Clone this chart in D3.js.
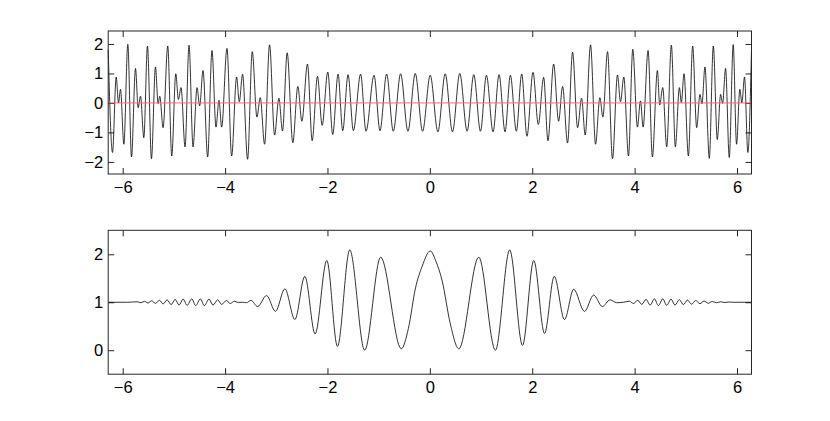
<!DOCTYPE html>
<html>
<head>
<meta charset="utf-8">
<script src="https://cdn.jsdelivr.net/npm/d3@7"></script>
<style>
  body { margin: 0; background: #fff; }
  svg text { font-family: "Liberation Sans", Arial, Helvetica, sans-serif; }
</style>
</head>
<body>
<div id="wrapper"></div>
<script>
// top panel - local peaks / troughs of the signal
const topX = [-6.283, -6.199, -6.127, -6.082, -6.043, -5.977, -5.9, -5.828, -5.75, -5.698,
  -5.652, -5.587, -5.516, -5.438, -5.36, -5.308, -5.276, -5.211, -5.12, -5.042,
  -4.963, -4.912, -4.86, -4.782, -4.704, -4.626, -4.548, -4.496, -4.431, -4.34,
  -4.256, -4.178, -4.119, -4.067, -3.963, -3.872, -3.775, -3.723, -3.658, -3.56,
  -3.469, -3.378, -3.313, -3.228, -3.131, -3.033, -2.949, -2.878, -2.787, -2.677,
  -2.579, -2.5, -2.39, -2.299, -2.195, -2.104, -1.994, -1.897, -1.793, -1.702,
  -1.598, -1.494, -1.352, -1.247, -1.09, -0.974, -0.844, -0.714, -0.571, -0.428,
  -0.285, -0.142, 0.007, 0.157, 0.3, 0.442, 0.585, 0.728, 0.858, 0.989,
  1.105, 1.235, 1.352, 1.469, 1.573, 1.69, 1.794, 1.897, 2.015, 2.119,
  2.223, 2.307, 2.418, 2.515, 2.593, 2.69, 2.788, 2.886, 2.964, 3.035,
  3.139, 3.237, 3.321, 3.38, 3.471, 3.568, 3.665, 3.724, 3.789, 3.88,
  3.964, 4.055, 4.114, 4.166, 4.263, 4.347, 4.445, 4.49, 4.549, 4.627,
  4.718, 4.796, 4.874, 4.913, 4.965, 5.05, 5.134, 5.212, 5.277, 5.316,
  5.374, 5.459, 5.537, 5.615, 5.68, 5.719, 5.777, 5.849, 5.926, 5.991,
  6.056, 6.095, 6.147, 6.212, 6.283]
const topY = [1.8, -1.68, 0.88, 0.0, 0.46, -1.4, 1.99, -1.83, 1.17, -0.16,
  0.23, -1.18, 1.93, -1.89, 1.22, -0.02, 0.23, -0.84, 1.93, -1.8,
  0.99, 0.12, 0.52, -1.49, 1.96, -1.49, 0.52, -0.1, 1.1, -1.83,
  1.78, -0.82, 0.09, -0.82, 1.85, -1.8, 0.88, 0.04, 0.97, -1.91,
  1.74, -0.48, 0.18, -1.4, 1.97, -1.09, 0.16, -0.95, 1.7, -1.35,
  0.56, -0.62, 1.32, -1.28, 0.9, -0.76, 1.05, -1.07, 0.98, -0.94,
  0.96, -0.94, 0.98, -0.96, 0.94, -0.94, 0.98, -0.96, 0.99, -0.96,
  1.0, -0.96, 0.94, -0.98, 0.99, -0.98, 1.0, -0.96, 0.96, -0.96,
  0.94, -0.98, 0.96, -0.98, 0.94, -0.96, 0.98, -1.13, 1.04, -0.73,
  0.87, -1.28, 1.32, -0.62, 0.56, -1.36, 1.72, -0.84, 0.16, -1.09,
  1.97, -1.4, 0.18, -0.48, 1.74, -1.89, 0.95, 0.04, 0.88, -1.8,
  1.82, -0.82, 0.07, -0.82, 1.78, -1.83, 1.1, -0.07, 0.52, -1.49,
  1.96, -1.49, 0.52, 0.01, 0.99, -1.8, 1.93, -0.84, 0.29, -0.03,
  1.22, -1.88, 1.93, -1.24, 0.29, -0.02, 1.17, -1.85, 1.98, -1.4,
  0.46, 0.0, 0.88, -1.68, 1.8]
const zeroLevel = 0

// bottom panel
const bottomX = [-6.283, -5.9, -5.718, -5.646, -5.574, -5.509, -5.431, -5.36, -5.282, -5.21,
  -5.132, -5.054, -4.976, -4.898, -4.82, -4.742, -4.651, -4.574, -4.483, -4.405,
  -4.314, -4.236, -4.145, -4.067, -3.976, -3.898, -3.82, -3.743, -3.66, -3.58,
  -3.495, -3.365, -3.19, -3.016, -2.832, -2.637, -2.442, -2.241, -2.013, -1.805,
  -1.565, -1.273, -0.961, -0.558, -0.42, -0.28, -0.15, 0.007, 0.12, 0.24,
  0.4, 0.566, 0.956, 1.28, 1.56, 1.81, 2.03, 2.24, 2.43, 2.63,
  2.81, 3.02, 3.2, 3.37, 3.52, 3.65, 3.78, 3.899, 3.977, 4.062,
  4.14, 4.224, 4.302, 4.387, 4.465, 4.549, 4.627, 4.711, 4.789, 4.874,
  4.952, 5.03, 5.114, 5.192, 5.277, 5.355, 5.439, 5.517, 5.602, 5.68,
  5.764, 5.842, 5.927, 6.283]
const bottomY = [1.0, 1.0, 1.01, 0.99, 1.02, 0.985, 1.03, 0.975, 1.04, 0.965,
  1.05, 0.95, 1.06, 0.94, 1.065, 0.935, 1.07, 0.93, 1.07, 0.93,
  1.065, 0.94, 1.05, 0.955, 1.035, 0.975, 1.02, 0.995, 1.0, 0.99,
  1.04, 0.91, 1.14, 0.81, 1.28, 0.64, 1.54, 0.34, 1.87, 0.08,
  2.09, 0.0, 1.94, 0.03, 0.45, 1.3, 1.75, 2.07, 1.85, 1.45,
  0.55, 0.03, 1.94, 0.0, 2.09, 0.1, 1.87, 0.35, 1.54, 0.64,
  1.27, 0.81, 1.15, 0.91, 1.05, 0.99, 1.0, 1.02, 0.975, 1.04,
  0.955, 1.06, 0.94, 1.07, 0.93, 1.07, 0.935, 1.065, 0.94, 1.055,
  0.95, 1.045, 0.96, 1.035, 0.97, 1.025, 0.98, 1.015, 0.99, 1.01,
  0.995, 1.005, 1.0, 1.0]

const xTicks = [-6, -4, -2, 0, 2, 4, 6]
const topYTicks = [-2, -1, 0, 1, 2]
const bottomYTicks = [0, 1, 2]

function drawFigure() {
  const dimensions = {
    width: 830,
    height: 421,
    left: 108.2,
    right: 751.5,
  }

  const wrapper = d3.select("#wrapper")
    .append("svg")
    .attr("width", dimensions.width)
    .attr("height", dimensions.height)

  const xScaler = d3.scaleLinear()
    .domain([-2 * Math.PI, 2 * Math.PI])
    .range([dimensions.left, dimensions.right])

  const tickLen = 6
  const fmt = d3.format("d")

  function drawPanel(opts) {
    const yScaler = d3.scaleLinear()
      .domain(opts.yDomain)
      .range([opts.bottom, opts.top])

    const g = wrapper.append("g")

    // ticks on all four sides, pointing inward
    g.append("g")
      .attr("transform", `translate(0, ${opts.bottom})`)
      .call(d3.axisBottom(xScaler).tickValues(xTicks).tickFormat(fmt)
        .tickSizeInner(-tickLen).tickSizeOuter(0).tickPadding(7))
    g.append("g")
      .attr("transform", `translate(0, ${opts.top})`)
      .call(d3.axisTop(xScaler).tickValues(xTicks).tickSizeInner(-tickLen).tickSizeOuter(0).tickFormat(""))
    g.append("g")
      .attr("transform", `translate(${dimensions.left}, 0)`)
      .call(d3.axisLeft(yScaler).tickValues(opts.yTicks).tickFormat(fmt)
        .tickSizeInner(-tickLen).tickSizeOuter(0).tickPadding(5))
    g.append("g")
      .attr("transform", `translate(${dimensions.right}, 0)`)
      .call(d3.axisRight(yScaler).tickValues(opts.yTicks).tickSizeInner(-tickLen).tickSizeOuter(0).tickFormat(""))

    g.selectAll(".domain").remove()
    g.selectAll(".tick line").attr("stroke", "#262626")
    g.selectAll(".tick text")
      .attr("font-size", "16.5px")
      .attr("fill", "#000")
      .attr("font-family", "'Liberation Sans', Arial, Helvetica, sans-serif")

    const line = d3.line()
      .x(i => xScaler(opts.xs[i]))
      .y(i => yScaler(opts.ys[i]))
      .curve(d3.curveMonotoneX)

    g.append("path")
      .attr("d", line(d3.range(opts.xs.length)))
      .attr("fill", "none")
      .attr("stroke", "#000")
      .attr("stroke-width", 0.8)

    if (opts.zero !== undefined) {
      g.append("line")
        .attr("x1", xScaler(xScaler.domain()[0]))
        .attr("x2", xScaler(xScaler.domain()[1]))
        .attr("y1", yScaler(opts.zero))
        .attr("y2", yScaler(opts.zero))
        .attr("stroke", "#ff6a6a")
        .attr("stroke-width", 1)
    }

    g.append("rect")
      .attr("x", dimensions.left)
      .attr("y", opts.top)
      .attr("width", dimensions.right - dimensions.left)
      .attr("height", opts.bottom - opts.top)
      .attr("fill", "none")
      .attr("stroke", "#262626")
      .attr("stroke-width", 1)
  }

  drawPanel({ top: 31, bottom: 174, yDomain: [-2.41, 2.44], yTicks: topYTicks, xs: topX, ys: topY, zero: zeroLevel })
  drawPanel({ top: 230.3, bottom: 374.2, yDomain: [-0.5, 2.5], yTicks: bottomYTicks, xs: bottomX, ys: bottomY })
}

drawFigure()
</script>
</body>
</html>
